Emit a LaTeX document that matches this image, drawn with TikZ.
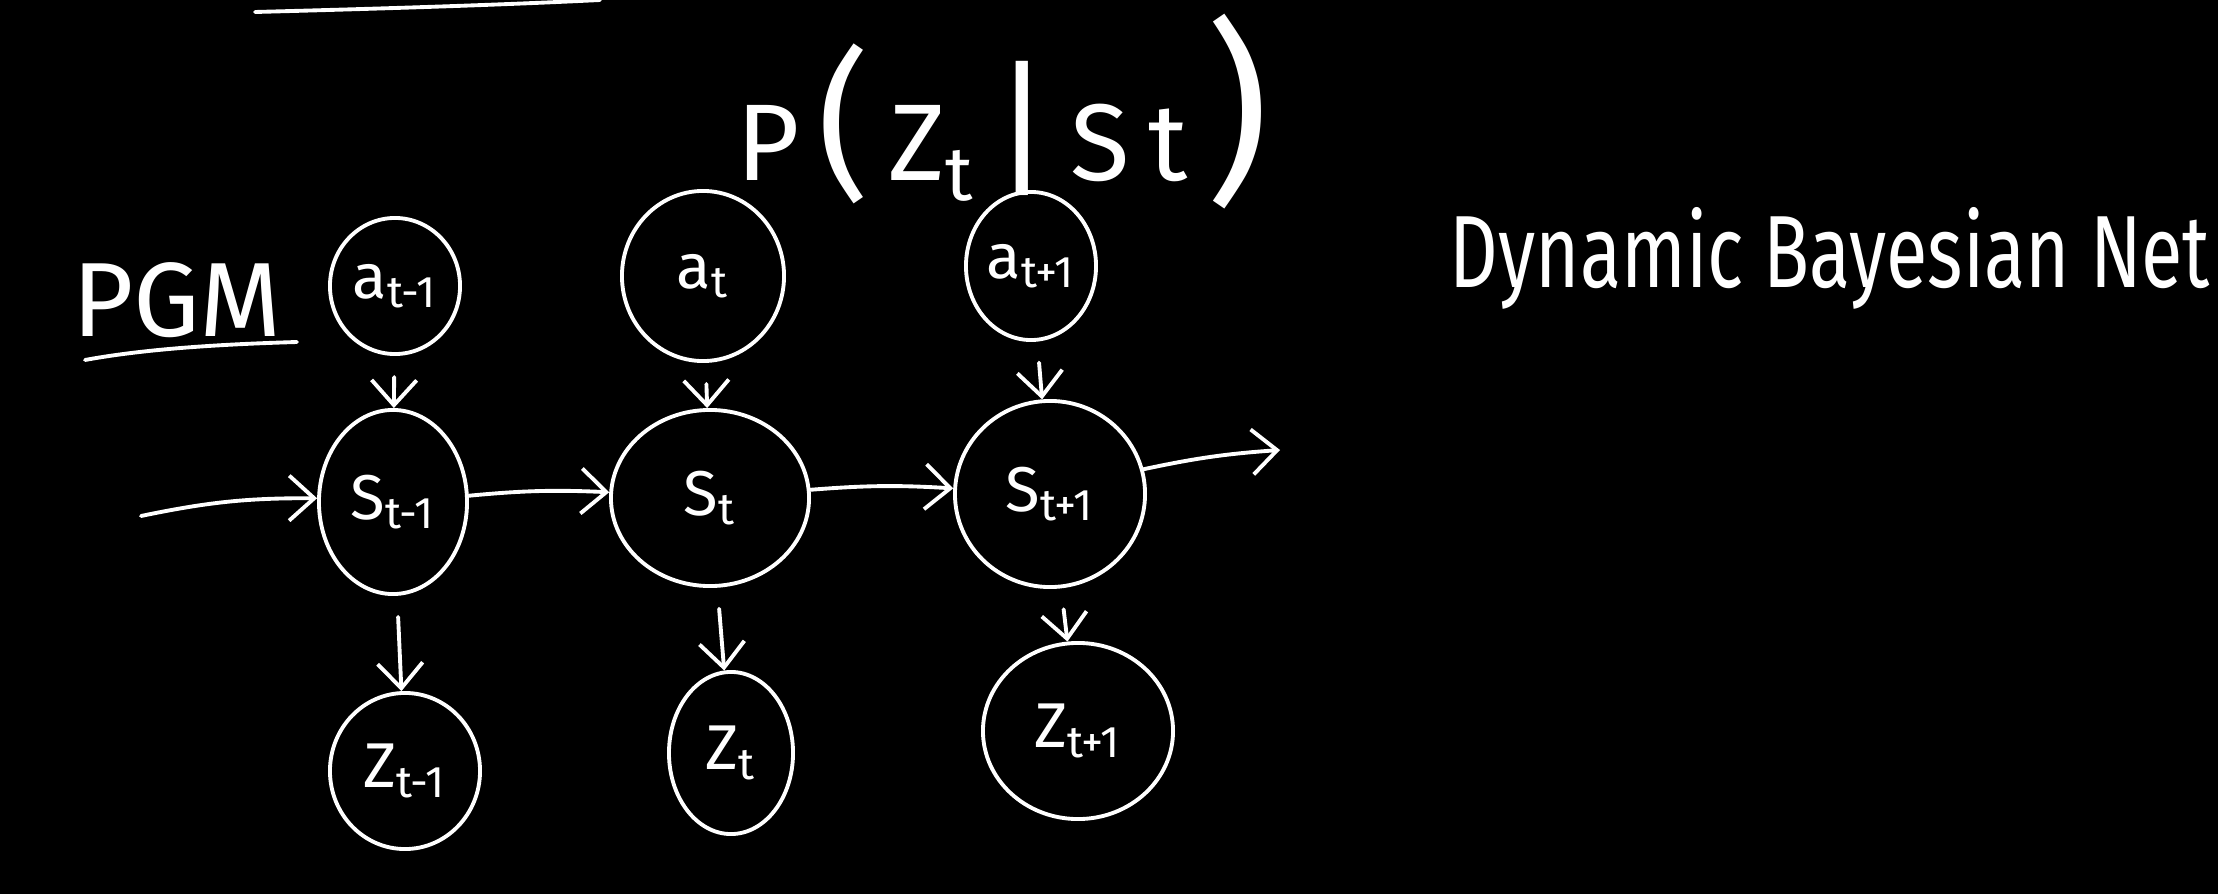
\documentclass[tikz,border=0pt]{standalone}
\usepackage{fontspec}
\setmainfont{Fira Sans}
\usetikzlibrary{arrows.meta,shapes.geometric}
\newcommand\sbt[2]{#1\textsubscript{#2}}
\begin{document}
\begin{tikzpicture}[x=0.01cm,y=-0.01cm,
  chalk/.style={draw=white,line width=1.1pt,line cap=round},
  rv/.style={chalk,ellipse,inner sep=0pt,text=white,font=\fontsize{18}{18}\selectfont},
  link/.style={chalk,-{Straight Barb[length=2.5mm,width=4.5mm]}},
  lbl/.style={text=white,inner sep=0pt}]
\fill[black] (0,0) rectangle (2218,894);
\useasboundingbox (0,0) rectangle (2218,894);
% top stroke (cut off)
\draw[chalk] (255,12) .. controls (330,10) and (480,6) .. (600,0);
% title label
\node[lbl,font=\fontsize{30}{30}\selectfont] (pgm) at (177,300) {PGM};
\draw[chalk] (85,360) .. controls (150,348) and (230,344) .. (297,342);
\node[lbl,font=\fontsize{31}{31}\selectfont] (obs) at (1003,112)
  {P\,{\fontsize{46}{46}\selectfont(}\,Z\textsubscript{t}\,{\fontsize{42}{42}\selectfont|}\,S\,t\,{\fontsize{56}{56}\selectfont)}};
\node[lbl] (dbn) at (1830,258) {\resizebox{7.6cm}{0.8cm}{Dynamic Bayesian Net}};
% nodes
\node[rv,minimum width=1.30cm,minimum height=1.36cm] (a1) at (395,286) {\sbt{a}{t-1}};
\node[rv,minimum width=1.62cm,minimum height=1.70cm] (a2) at (703,276) {\sbt{a}{t}};
\node[rv,minimum width=1.30cm,minimum height=1.48cm] (a3) at (1031,266) {\sbt{a}{t+1}};
\node[rv,minimum width=1.48cm,minimum height=1.84cm] (s1) at (393,502) {\sbt{S}{t-1}};
\node[rv,minimum width=1.98cm,minimum height=1.76cm] (s2) at (710,498) {\sbt{S}{t}};
\node[rv,minimum width=1.90cm,minimum height=1.86cm] (s3) at (1050,494) {\sbt{S}{t+1}};
\node[rv,minimum width=1.50cm,minimum height=1.56cm] (z1) at (405,771) {\sbt{Z}{t-1}};
\node[rv,minimum width=1.24cm,minimum height=1.62cm] (z2) at (731,753) {\sbt{Z}{t}};
\node[rv,minimum width=1.90cm,minimum height=1.76cm] (z3) at (1078,731) {\sbt{Z}{t+1}};
\coordinate (in) at (141,516);
\coordinate (out) at (1280,450);
% connectors
\draw[link,shorten <=6pt] (a1) -- (s1);
\draw[link,shorten <=6pt] (a2) -- (s2);
\draw[link,shorten <=6pt] (a3) -- (s3);
\draw[link] (in) to[bend left=6] (s1);
\draw[link] (s1) to[bend left=4] (s2);
\draw[link] (s2) to[bend left=4] (s3);
\draw[link] (s3) to[bend left=4] (out);
\draw[link,shorten <=6pt] (s1) -- (z1);
\draw[link,shorten <=6pt] (s2) -- (z2);
\draw[link,shorten <=6pt] (s3) -- (z3);
\end{tikzpicture}
\end{document}
